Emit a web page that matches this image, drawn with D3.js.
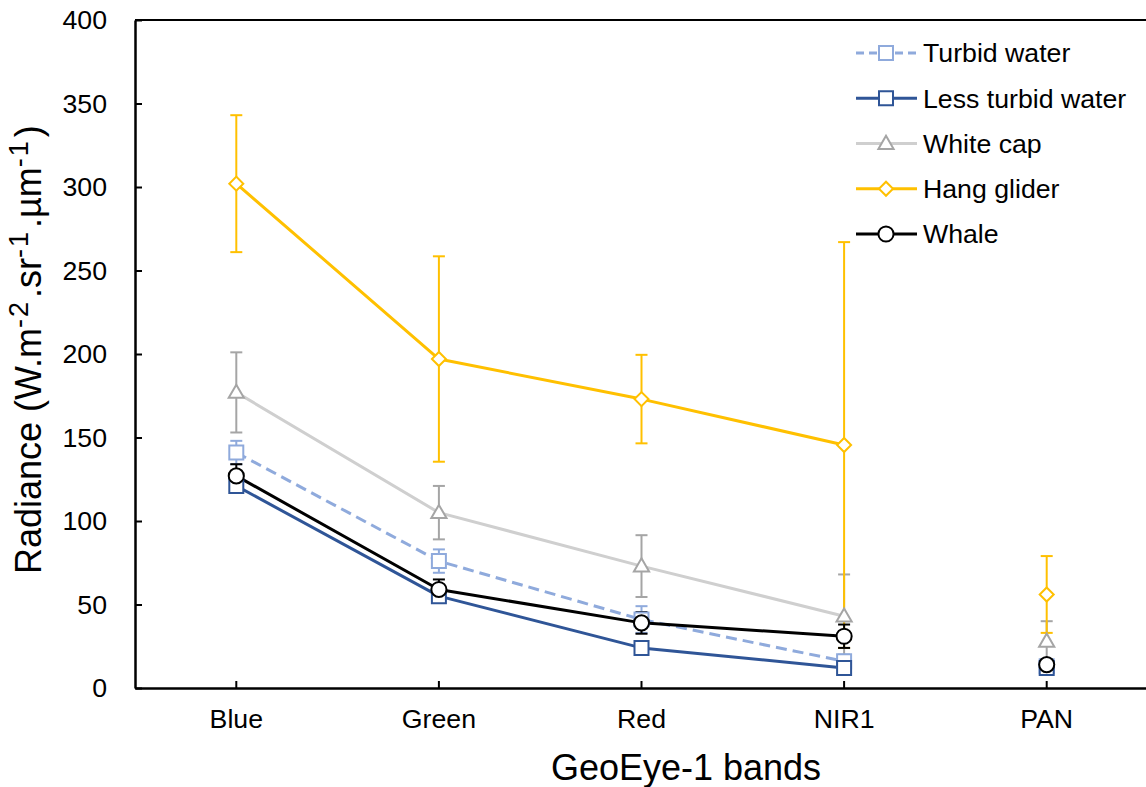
<!DOCTYPE html>
<html>
<head>
<meta charset="utf-8">
<script src="https://cdn.jsdelivr.net/npm/d3@7"></script>
<style>
  html, body { margin: 0; padding: 0; background: #fff; }
  svg { display: block; font-family: Arial, "Liberation Sans", sans-serif; }
</style>
</head>
<body>
<svg id="chart" width="1146" height="787"></svg>
<script>
// Band categories on the x axis
const categories = ["Blue", "Green", "Red", "NIR1", "PAN"];
const yTicks = [0, 50, 100, 150, 200, 250, 300, 350, 400];

// Mean radiance per band and its error (± value)
const turbidWater        = [141, 76, 41, 16, 13];
const turbidWaterErr     = [7, 7, 8, 4, 2];
const lessTurbidWater    = [121, 55, 24, 12, 12];
const lessTurbidWaterErr = [3, 3, 2, 2, 1];
const whiteCap           = [177, 105, 73, 43, 28];
const whiteCapErr        = [24, 16, 18.5, 25, 12];
const hangGlider         = [302, 197, 173, 145.5, 56];
const hangGliderErr      = [41, 61.5, 26.5, 121.5, 23];
const whale              = [127, 59, 39, 31, 14];
const whaleErr           = [7, 6, 6.5, 7, 2];

const seriesNames = ["Turbid water", "Less turbid water", "White cap", "Hang glider", "Whale"];

// Bands joined by the connecting line (PAN stands alone)
const lineBands = ["Blue", "Green", "Red", "NIR1"];

const series = [
  { name: seriesNames[0], values: turbidWater, err: turbidWaterErr,
    line: "#8FAADC", mark: "#8FAADC", dash: "11,6", symbol: "square" },
  { name: seriesNames[1], values: lessTurbidWater, err: lessTurbidWaterErr,
    line: "#2F5597", mark: "#2F5597", dash: null, symbol: "square" },
  { name: seriesNames[2], values: whiteCap, err: whiteCapErr,
    line: "#CFCFCF", mark: "#A5A5A5", dash: null, symbol: "triangle" },
  { name: seriesNames[3], values: hangGlider, err: hangGliderErr,
    line: "#FFC000", mark: "#FFC000", dash: null, symbol: "diamond" },
  { name: seriesNames[4], values: whale, err: whaleErr,
    line: "#000000", mark: "#000000", dash: null, symbol: "circle" }
];

const svg = d3.select("#chart");
const plot = { left: 135, right: 1148, top: 20, bottom: 688 };

const x = d3.scaleBand().domain(categories).range([plot.left, plot.right]).padding(0);
const cx = c => x(c) + x.bandwidth() / 2;
const y = d3.scaleLinear().domain([0, 400]).range([plot.bottom, plot.top]);

// Marker shapes
function symbolPath(kind) {
  switch (kind) {
    case "square":   return d3.symbol(d3.symbolSquare, 196)();
    case "triangle": return d3.symbol(d3.symbolTriangle, 100)();
    case "diamond":  return d3.symbol(d3.symbolSquare, 98)();
    case "circle":   return d3.symbol(d3.symbolCircle, 180)();
  }
}
function symbolTransform(kind, px, py) {
  if (kind === "diamond") return `translate(${px},${py}) rotate(45)`;
  if (kind === "triangle") return `translate(${px},${py + 1})`;
  return `translate(${px},${py})`;
}

// Frame: top border
svg.append("line")
  .attr("x1", plot.left).attr("x2", plot.right)
  .attr("y1", plot.top).attr("y2", plot.top)
  .attr("stroke", "#000").attr("stroke-width", 2);

// Y axis
const yAxis = svg.append("g")
  .attr("transform", `translate(${plot.left},0)`)
  .call(d3.axisLeft(y).tickValues(yTicks).tickSizeInner(-7).tickSizeOuter(0).tickPadding(28));
yAxis.select(".domain").attr("stroke", "#000").attr("stroke-width", 2.5);
yAxis.selectAll(".tick line").attr("stroke", "#000").attr("stroke-width", 2);
yAxis.selectAll(".tick text")
  .attr("font-size", "26.7px").attr("fill", "#000")
  .attr("font-family", "Arial, 'Liberation Sans', sans-serif");

// X axis
const xAxis = svg.append("g")
  .attr("transform", `translate(0,${plot.bottom})`)
  .call(d3.axisBottom(x).tickSizeInner(-7).tickSizeOuter(0).tickPadding(21));
xAxis.select(".domain").attr("stroke", "#000").attr("stroke-width", 2.5);
xAxis.selectAll(".tick line").attr("stroke", "#000").attr("stroke-width", 2);
xAxis.selectAll(".tick text")
  .attr("font-size", "26.7px").attr("fill", "#000")
  .attr("font-family", "Arial, 'Liberation Sans', sans-serif");

// Axis titles
svg.append("text")
  .attr("x", 686).attr("y", 780)
  .attr("text-anchor", "middle")
  .attr("font-size", "36px").attr("fill", "#000")
  .text("GeoEye-1 bands");

const yTitle = svg.append("text")
  .attr("transform", "translate(41,574) rotate(-90)")
  .attr("text-anchor", "start")
  .attr("font-size", "36px").attr("fill", "#000");
const titleParts = [
  ["Radiance (W.m", false], ["-2", true], [".sr", false], ["-1", true],
  [".\u00b5m", false], ["-1", true], [")", false]
];
titleParts.forEach(([t, sup], i) => {
  const ts = yTitle.append("tspan").text(t);
  if (sup) ts.attr("font-size", "27px").attr("dy", -13).attr("letter-spacing", "2px");
  else if (i > 0) ts.attr("dy", 13).attr("dx", 2);
});

// Connecting lines
const lineGen = d3.line().x(d => cx(d.c)).y(d => y(d.v));
series.forEach(s => {
  const pts = lineBands.map(c => ({ c, v: s.values[categories.indexOf(c)] }));
  svg.append("path")
    .datum(pts)
    .attr("d", lineGen)
    .attr("fill", "none")
    .attr("stroke", s.line)
    .attr("stroke-width", 3)
    .attr("stroke-linejoin", "round")
    .attr("stroke-dasharray", s.dash);
});

// Error bars
const capHalf = 6;
series.forEach(s => {
  const g = svg.append("g").attr("stroke", s.mark).attr("stroke-width", 2);
  categories.forEach((c, i) => {
    const px = cx(c), v = s.values[i], e = s.err[i];
    const yTop = y(v + e), yBot = y(v - e);
    g.append("line").attr("x1", px).attr("x2", px).attr("y1", yTop).attr("y2", yBot);
    g.append("line").attr("x1", px - capHalf).attr("x2", px + capHalf).attr("y1", yTop).attr("y2", yTop);
    g.append("line").attr("x1", px - capHalf).attr("x2", px + capHalf).attr("y1", yBot).attr("y2", yBot);
  });
});

// Markers
series.forEach(s => {
  svg.append("g").selectAll("path")
    .data(categories.map((c, i) => ({ c, v: s.values[i] })))
    .join("path")
    .attr("d", symbolPath(s.symbol))
    .attr("transform", d => symbolTransform(s.symbol, cx(d.c), y(d.v)))
    .attr("fill", "#fff")
    .attr("stroke", s.mark)
    .attr("stroke-width", 2);
});

// Legend
const legend = svg.append("g");
const legendRowY = d3.scalePoint().domain(seriesNames).range([53, 234]);
series.forEach(s => {
  const ly = legendRowY(s.name);
  legend.append("line")
    .attr("x1", 856).attr("x2", 917).attr("y1", ly).attr("y2", ly)
    .attr("stroke", s.line).attr("stroke-width", 3)
    .attr("stroke-dasharray", s.dash ? "8,5" : null);
  legend.append("path")
    .attr("d", symbolPath(s.symbol))
    .attr("transform", symbolTransform(s.symbol, 886, ly))
    .attr("fill", "#fff").attr("stroke", s.mark).attr("stroke-width", 2);
  legend.append("text")
    .attr("x", 923).attr("y", ly)
    .attr("dy", "0.35em")
    .attr("font-size", "26.7px").attr("fill", "#000")
    .text(s.name);
});
</script>
</body>
</html>
